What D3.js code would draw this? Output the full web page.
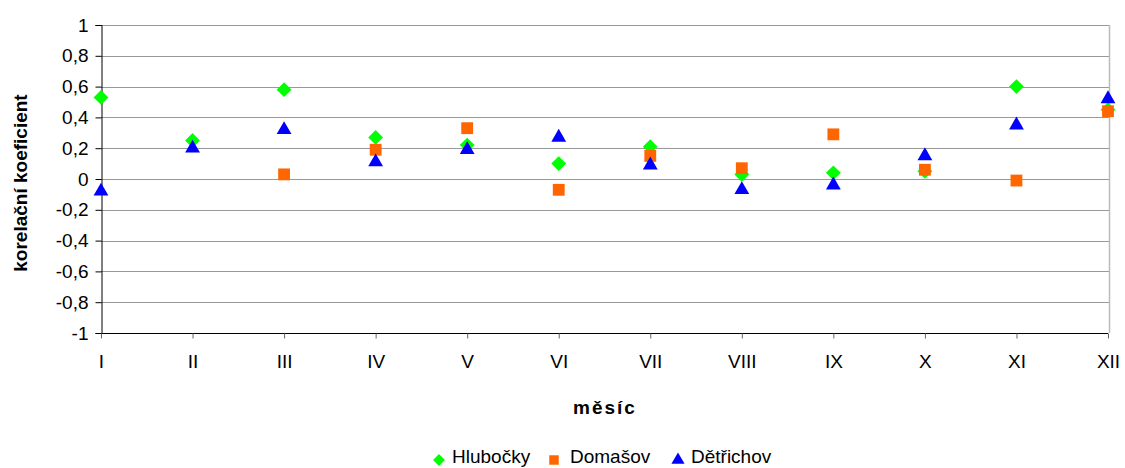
<!DOCTYPE html>
<html>
<head>
<meta charset="utf-8">
<script src="https://cdn.jsdelivr.net/npm/d3@7"></script>
<style>
  body { margin: 0; background: #fff; }
  svg { display: block; font-family: "Liberation Sans", Arial, sans-serif; }
</style>
</head>
<body>
<svg id="chart" width="1125" height="468"></svg>
<script>
const months = ["I","II","III","IV","V","VI","VII","VIII","IX","X","XI","XII"];
const hlubocky = [0.53, 0.25, 0.58, 0.27, 0.22, 0.10, 0.21, 0.03, 0.04, 0.05, 0.60, 0.45];
const domasov  = [null, null, 0.03, 0.19, 0.33, -0.07, 0.15, 0.07, 0.29, 0.06, -0.01, 0.44];
const detrichov = [-0.08, 0.20, 0.32, 0.11, 0.19, 0.27, 0.09, -0.07, -0.04, 0.15, 0.35, 0.52];
const yTicks = [-1, -0.8, -0.6, -0.4, -0.2, 0, 0.2, 0.4, 0.6, 0.8, 1];
const seriesNames = ["Hlubočky", "Domašov", "Dětřichov"];

const svg = d3.select("#chart");
const pLeft = 101, pRight = 1108, pTop = 25, pBottom = 333;

const x = d3.scalePoint().domain(months).range([pLeft, pRight]);
const y = d3.scaleLinear().domain([-1, 1]).range([pBottom, pTop]);

// gridlines
svg.append("g").selectAll("line").data(yTicks.filter(d => d > -1)).join("line")
  .attr("x1", pLeft).attr("x2", pRight + 1)
  .attr("y1", d => Math.round(y(d)) + 0.5).attr("y2", d => Math.round(y(d)) + 0.5)
  .attr("stroke", "#999").attr("stroke-width", 1);
// right border
svg.append("line").attr("x1", pRight + 1.5).attr("x2", pRight + 1.5)
  .attr("y1", pTop).attr("y2", pBottom).attr("stroke", "#bbb").attr("stroke-width", 1.5);

const fmt = d => (d === 0 ? "0" : String(+d.toFixed(1)).replace(".", ","));

// y axis
const yAxis = d3.axisLeft(y).tickValues(yTicks).tickFormat(fmt).tickSize(6).tickPadding(7);
const gy = svg.append("g").attr("transform", `translate(${pLeft + 0.5},0)`).call(yAxis);
gy.select(".domain").attr("stroke", "#000");
gy.selectAll(".tick line").attr("stroke", "#000");
gy.selectAll(".tick text").attr("font-size", 19).attr("fill", "#000")
  .attr("font-family", "'Liberation Sans', Arial, sans-serif");

// x axis
const xAxis = d3.axisBottom(x).tickSize(5).tickPadding(16);
const gx = svg.append("g").attr("transform", `translate(0,${pBottom + 0.5})`).call(xAxis);
gx.select(".domain").attr("stroke", "#000").attr("d", `M${pLeft},0H${pRight}`);
gx.selectAll(".tick line").attr("stroke", "#666");
gx.selectAll(".tick text").attr("font-size", 19).attr("fill", "#000")
  .attr("font-family", "'Liberation Sans', Arial, sans-serif");

// axis titles
svg.append("text").attr("x", 605).attr("y", 414).attr("text-anchor", "middle")
  .attr("font-size", 19).attr("font-weight", "bold").attr("letter-spacing", 2)
  .text("měsíc");
svg.append("text").attr("transform", "translate(27,183) rotate(-90)")
  .attr("text-anchor", "middle").attr("font-size", 19).attr("font-weight", "bold")
  .text("korelační koeficient");

// markers
const diamond = d3.symbol().type(d3.symbolSquare).size(110);
const square = d3.symbol().type(d3.symbolSquare).size(140);
const triangle = d3.symbol().type(d3.symbolTriangle).size(95);

const series = [
  { name: seriesNames[0], values: hlubocky, color: "#00FF00", path: diamond(), rot: 45 },
  { name: seriesNames[1], values: domasov, color: "#FF6600", path: square(), rot: 0 },
  { name: seriesNames[2], values: detrichov, color: "#0000FF", path: triangle(), rot: 0 }
];

series.forEach(s => {
  svg.append("g").selectAll("path")
    .data(months.map((m, i) => ({ m, v: s.values[i] })).filter(d => d.v !== null))
    .join("path")
    .attr("d", s.path)
    .attr("fill", s.color)
    .attr("transform", d => `translate(${x(d.m)},${y(d.v)}) rotate(${s.rot})`);
});

// legend
const legendItems = [
  { sx: 439, tx: 452 },
  { sx: 554, tx: 570 },
  { sx: 678, tx: 691 }
];
const legendSyms = [
  d3.symbol().type(d3.symbolSquare).size(70)(),
  d3.symbol().type(d3.symbolSquare).size(90)(),
  d3.symbol().type(d3.symbolTriangle).size(75)()
];
series.forEach((s, i) => {
  svg.append("path").attr("d", legendSyms[i]).attr("fill", s.color)
    .attr("transform", `translate(${legendItems[i].sx},460) rotate(${s.rot})`);
  svg.append("text").attr("x", legendItems[i].tx).attr("y", 463)
    .attr("font-size", 19).attr("fill", "#000").text(s.name);
});
</script>
</body>
</html>
